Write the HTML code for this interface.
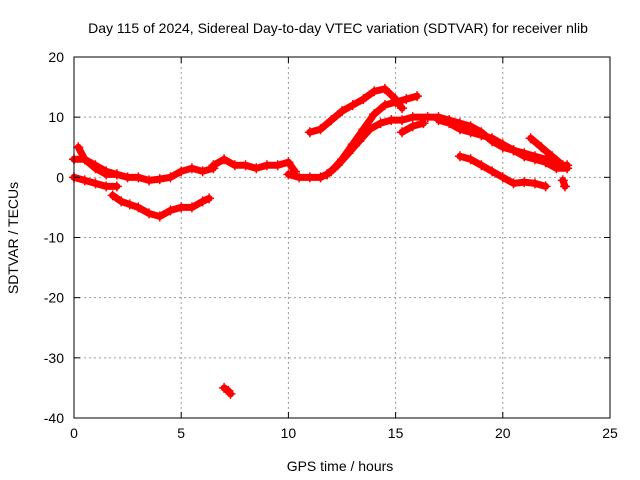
<!DOCTYPE html>
<html><head><meta charset="utf-8"><style>
body{margin:0;background:#fff}
svg{display:block;font-family:"Liberation Sans",sans-serif}
</style></head><body>
<svg id="chart" width="640" height="480" viewBox="0 0 640 480">
<rect width="640" height="480" fill="#fff"/>
<text x="338" y="33" font-size="14" text-anchor="middle">Day 115 of 2024, Sidereal Day-to-day VTEC variation (SDTVAR) for receiver nlib</text>
<g id="grid"></g><g id="data"></g><g id="axes"></g>
<text x="340" y="471" font-size="14" text-anchor="middle">GPS time / hours</text>
<text transform="translate(18,238) rotate(-90)" font-size="14" text-anchor="middle">SDTVAR / TECUs</text>
</svg>
<script>
const xTicks=[0,5,10,15,20,25];
const yTicks=[-40,-30,-20,-10,0,10,20];
const trackA=[[0.2,5],[0.5,3],[1,1.5],[1.5,0.5],[2,0.5],[2.5,0],[3,0],[3.5,-0.5],[4,-0.3],[4.5,0],[5,1],[5.5,1.5],[6,1],[6.5,1.5]];
const trackA2=[[0,3],[0.5,3],[1,2],[1.5,1],[2,0.5]];
const trackB=[[0,0],[0.5,-0.5],[1,-1],[1.5,-1.5],[2,-1.5]];
const trackC=[[1.8,-3],[2.2,-4],[2.6,-4.5],[3,-5],[3.5,-6],[4,-6.5],[4.5,-5.5],[5,-5],[5.5,-5],[6,-4],[6.3,-3.5]];
const trackD=[[6.5,2],[7,3],[7.5,2],[8,2],[8.5,1.5],[9,2],[9.5,2],[10,2.5],[10.3,1]];
const trackE=[[10,0.5],[10.5,0],[11,0],[11.5,0],[11.8,0.5]];
const trackF=[[11.8,0.5],[12.3,2],[12.8,4],[13.3,6],[13.8,8],[14.3,9],[14.8,9.5],[15.3,9.5],[15.8,10],[16.5,10],[17,10],[17.5,9.5],[18,9],[18.5,8.5],[19,7.5],[19.5,6],[20,5],[20.5,4.5],[21,4],[21.5,3.5],[22,3],[22.5,2],[23,2]];
const trackG=[[12,1],[12.5,3],[13,5.5],[13.5,8],[14,10.5],[14.5,12],[15,12.5],[15.5,13],[16,13.5]];
const trackH=[[11,7.5],[11.5,8],[12,9.5],[12.5,11],[13,12],[13.5,13],[14,14.3],[14.5,14.7],[15,13],[15.3,11.5]];
const trackI=[[15.3,7.5],[15.8,8.5],[16.3,9]];
const trackJ=[[17,9.5],[17.5,9],[18,8],[18.5,7.5],[19,7],[19.5,6.5],[20,5.5],[20.5,4.5],[21,3.5],[21.5,3],[22,2.5],[22.5,1.5],[23,1.5]];
const trackK=[[21.3,6.5],[21.8,5],[22.3,3.5],[22.8,2]];
const trackL=[[18,3.5],[18.5,3],[19,2],[19.5,1],[20,0],[20.5,-1],[21,-0.8],[21.5,-1],[22,-1.5]];
const trackM=[[22.8,-0.5],[22.9,-1.5]];
const trackN=[[7,-35],[7.2,-35.5],[7.3,-36]];
const tracks=[trackA,trackA2,trackB,trackC,trackD,trackE,trackF,trackG,trackH,trackI,trackJ,trackK,trackL,trackM,trackN];
const L=74,R=610,T=57,B=418;
const sx=v=>L+(v-0)/(25-0)*(R-L);
const sy=v=>B-(v+40)/60*(B-T);
const NS="http://www.w3.org/2000/svg";
function mk(tag,at,parent){const e=document.createElementNS(NS,tag);for(const k in at)e.setAttribute(k,at[k]);parent.appendChild(e);return e;}
const grid=document.getElementById('grid'),axes=document.getElementById('axes'),data=document.getElementById('data');
xTicks.forEach(t=>{const x=sx(t);
 if(t>0&&t<25){const g=mk('line',{x1:x,x2:x,y1:T,y2:B,stroke:'#999','stroke-dasharray':'2,3'},grid);}
 mk('line',{x1:x,x2:x,y1:B,y2:B-6,stroke:'#000'},axes);mk('line',{x1:x,x2:x,y1:T,y2:T+6,stroke:'#000'},axes);
 const tx=mk('text',{x:x,y:B+20,'font-size':14,'text-anchor':'middle'},axes);tx.textContent=t;
 });
yTicks.forEach(t=>{const y=sy(t);
 if(t>-40&&t<20){const g=mk('line',{x1:L,x2:R,y1:y,y2:y,stroke:'#999','stroke-dasharray':'2,3'},grid);}
 mk('line',{x1:L,x2:L+6,y1:y,y2:y,stroke:'#000'},axes);mk('line',{x1:R,x2:R-6,y1:y,y2:y,stroke:'#000'},axes);
 const tx=mk('text',{x:L-10,y:y+5,'font-size':14,'text-anchor':'end'},axes);tx.textContent=t;
 });
const fr=mk('rect',{x:L,y:T,width:R-L,height:B-T,fill:'none',stroke:'#000'},axes);

tracks.forEach(tr=>{
 const p=mk('polyline',{points:tr.map(d=>sx(d[0])+','+sy(d[1])).join(' '),fill:'none',stroke:'#f00','stroke-width':7,'stroke-linejoin':'round','stroke-linecap':'round'},data);
 
 
 tr.forEach(d=>{const x=sx(d[0]),y=sy(d[1]);
  const m=mk('path',{d:`M${x-5},${y}H${x+5}M${x},${y-5}V${y+5}`,stroke:'#f00','stroke-width':1.5},data);
  
  });
});
</script>
</body></html>
